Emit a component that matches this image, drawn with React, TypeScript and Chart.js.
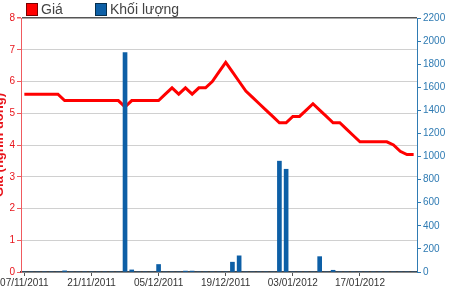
import React, { useEffect, useRef } from "react";
import { Chart, registerables } from "chart.js";

Chart.register(...registerables);

const dates: string[] = [
  "07/11/2011", "08/11/2011", "09/11/2011", "10/11/2011", "11/11/2011", "14/11/2011", "15/11/2011", "16/11/2011", "17/11/2011", "18/11/2011",
  "21/11/2011", "22/11/2011", "23/11/2011", "24/11/2011", "25/11/2011", "28/11/2011", "29/11/2011", "30/11/2011", "01/12/2011", "02/12/2011",
  "05/12/2011", "06/12/2011", "07/12/2011", "08/12/2011", "09/12/2011", "12/12/2011", "13/12/2011", "14/12/2011", "15/12/2011", "16/12/2011",
  "19/12/2011", "20/12/2011", "21/12/2011", "22/12/2011", "23/12/2011", "26/12/2011", "27/12/2011", "28/12/2011", "29/12/2011", "30/12/2011",
  "03/01/2012", "04/01/2012", "05/01/2012", "06/01/2012", "09/01/2012", "10/01/2012", "11/01/2012", "12/01/2012", "13/01/2012", "16/01/2012",
  "17/01/2012", "18/01/2012", "19/01/2012", "30/01/2012", "31/01/2012", "01/02/2012", "02/02/2012", "03/02/2012", "06/02/2012",
];

const price: number[] = [
  5.6, 5.6, 5.6, 5.6, 5.6, 5.6, 5.4, 5.4, 5.4, 5.4,
  5.4, 5.4, 5.4, 5.4, 5.4, 5.2, 5.4, 5.4, 5.4, 5.4,
  5.4, 5.6, 5.8, 5.6, 5.8, 5.6, 5.8, 5.8, 6.0, 6.3,
  6.6, 6.3, 6.0, 5.7, 5.5, 5.3, 5.1, 4.9, 4.7, 4.7,
  4.9, 4.9, 5.1, 5.3, 5.1, 4.9, 4.7, 4.7, 4.5, 4.3,
  4.1, 4.1, 4.1, 4.1, 4.1, 4.0, 3.8, 3.7, 3.7,
];

const volume: number[] = [
  0, 0, 0, 0, 0, 0, 10, 0, 0, 0,
  0, 0, 0, 0, 0, 1900, 18, 0, 0, 0,
  65, 0, 0, 0, 8, 8, 0, 0, 0, 0,
  0, 85, 140, 0, 0, 0, 0, 0, 960, 890,
  0, 0, 0, 0, 133, 0, 15, 0, 0, 0,
  0, 0, 0, 0, 0, 0, 0, 0, 0,
];

const seriesNames = ["Giá", "Khối lượng"];
const leftTitle = "Giá (nghìn đồng)";
const tickEvery = 10;

const FONT = 'Arial, "Liberation Sans", sans-serif';
const RED = "#ff0000";
const BLUE = "#0d5fa6";
const AXIS_BLUE = "#2f7bb3";
const SHIFT = 8;

export default function App() {
  const ref = useRef<HTMLCanvasElement | null>(null);

  useEffect(() => {
    if (!ref.current) return;
    const chart = new Chart(ref.current, {
      type: "bar",
      data: {
        labels: dates,
        datasets: [
          {
            type: "bar",
            label: seriesNames[1],
            data: volume,
            yAxisID: "y1",
            backgroundColor: BLUE,
            barThickness: 4,
            order: 0,
          } as any,
          {
            type: "line",
            label: seriesNames[0],
            data: price,
            yAxisID: "y",
            borderColor: RED,
            borderWidth: 3,
            pointRadius: 0,
            tension: 0,
            order: 1,
          } as any,
        ],
      },
      options: {
        animation: false,
        responsive: false,
        devicePixelRatio: 1,
        layout: { padding: { top: 18, bottom: 0, left: 0, right: 0 } },
        plugins: {
          legend: { display: false },
          tooltip: { enabled: false },
        },
        scales: {
          x: {
            type: "category",
            offset: true,
            grid: {
              drawOnChartArea: false,
              offset: false,
              tickLength: 4,
              tickColor: "#555",
              color: "#555",
            },
            border: { color: "#444", width: 1.5 },
            ticks: {
              autoSkip: false,
              maxRotation: 0,
              minRotation: 0,
              padding: 1,
              color: "#333",
              font: { size: 10, family: FONT },
              callback: (_v: any, idx: number) => (idx % tickEvery === 0 ? dates[idx] : null),
            },
            afterFit: (s: any) => {
              s.height = 19;
            },
          },
          y: {
            position: "left",
            min: 0,
            max: 8,
            ticks: {
              stepSize: 1,
              color: "#e8141b",
              padding: 2,
              font: { size: 10, family: FONT },
            },
            grid: {
              color: (ctx: any) => (ctx.tick && ctx.tick.value === 8 ? "#555" : "#d0d0d0"),
              lineWidth: (ctx: any) => (ctx.tick && ctx.tick.value === 8 ? 1.5 : 1),
              tickColor: "#f05a5e",
              tickLength: 4,
            },
            border: { color: "#f05a5e", width: 1 },
            title: {
              display: true,
              text: leftTitle,
              color: "#e8141b",
              font: { size: 13, weight: "bold", family: FONT },
              padding: 0,
            },
            afterFit: (s: any) => {
              s.width = 21 + SHIFT;
            },
          },
          y1: {
            position: "right",
            min: 0,
            max: 2200,
            ticks: {
              stepSize: 200,
              color: AXIS_BLUE,
              padding: 2,
              font: { size: 10, family: FONT },
              callback: (v: any) => String(v),
            },
            grid: {
              drawOnChartArea: false,
              tickColor: AXIS_BLUE,
              tickLength: 4,
            },
            border: { color: AXIS_BLUE, width: 1 },
            afterFit: (s: any) => {
              s.width = 33;
            },
          },
        },
      } as any,
    });
    return () => chart.destroy();
  }, []);

  const legendText: React.CSSProperties = {
    position: "absolute",
    top: 0,
    font: `14px ${FONT}`,
    color: "#444",
    lineHeight: "18px",
  };
  const box = (bg: string, border: string, left: number): React.CSSProperties => ({
    position: "absolute",
    left,
    top: 3,
    width: 10,
    height: 11,
    background: bg,
    border: `1px solid ${border}`,
  });

  return (
    <div style={{ position: "fixed", left: 0, top: 0, width: 450, height: 291, overflow: "hidden", background: "#fff" }}>
      <canvas
        ref={ref}
        width={450 + SHIFT}
        height={291}
        style={{ position: "absolute", left: -SHIFT, top: 0, width: 450 + SHIFT, height: 291 }}
      />
      <div style={box(RED, "#7a0000", 26)} />
      <div style={{ ...legendText, left: 41 }}>{seriesNames[0]}</div>
      <div style={box(BLUE, "#06304f", 95)} />
      <div style={{ ...legendText, left: 110 }}>{seriesNames[1]}</div>
    </div>
  );
}
